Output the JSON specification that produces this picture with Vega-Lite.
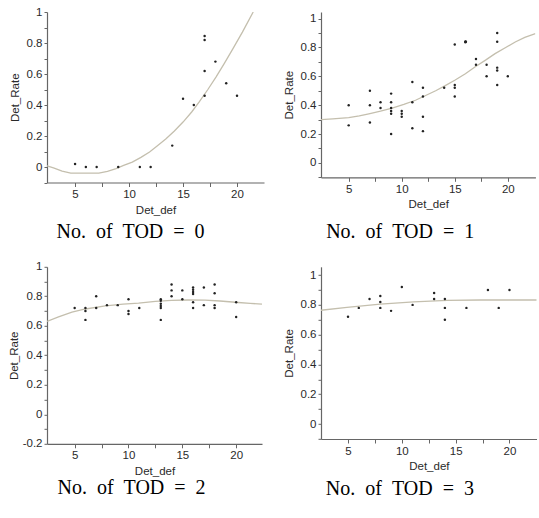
{
  "$schema": "https://vega.github.io/schema/vega-lite/v6.json",
  "background": "white",
  "padding": {"left": 8, "top": 6, "right": 0, "bottom": 0},
  "bounds": "flush",
  "columns": 2,
  "spacing": {"row": 83.8, "column": 57},
  "config": {
    "view": {"stroke": null},
    "axis": {
      "grid": false,
      "domain": true,
      "domainColor": "#666666",
      "domainWidth": 1.2,
      "tickColor": "#666666",
      "tickWidth": 1,
      "labelFont": "Liberation Sans",
      "labelFontSize": 11.5,
      "labelColor": "#2a2a2a",
      "titleFont": "Liberation Sans",
      "titleFontSize": 11.5,
      "titleFontWeight": "normal",
      "titleColor": "#2a2a2a",
      "labelPadding": 2
    },
    "title": {
      "font": "Liberation Serif",
      "fontSize": 20,
      "fontWeight": "normal",
      "color": "#000000",
      "orient": "bottom",
      "anchor": "middle",
      "frame": "group"
    }
  },
  "datasets": {
    "pts": [
      {"tod": 0, "x": 5, "y": 0.02}, {"tod": 0, "x": 6, "y": 0}, {"tod": 0, "x": 7, "y": 0}, {"tod": 0, "x": 9, "y": 0},
      {"tod": 0, "x": 11, "y": 0}, {"tod": 0, "x": 12, "y": 0}, {"tod": 0, "x": 14, "y": 0.138}, {"tod": 0, "x": 15, "y": 0.44},
      {"tod": 0, "x": 16, "y": 0.4}, {"tod": 0, "x": 17, "y": 0.845}, {"tod": 0, "x": 17, "y": 0.82}, {"tod": 0, "x": 17, "y": 0.62},
      {"tod": 0, "x": 17, "y": 0.46}, {"tod": 0, "x": 18, "y": 0.68}, {"tod": 0, "x": 19, "y": 0.54}, {"tod": 0, "x": 20, "y": 0.46},

      {"tod": 1, "x": 5, "y": 0.4}, {"tod": 1, "x": 5, "y": 0.26},
      {"tod": 1, "x": 7, "y": 0.5}, {"tod": 1, "x": 7, "y": 0.4}, {"tod": 1, "x": 7, "y": 0.28},
      {"tod": 1, "x": 8, "y": 0.42}, {"tod": 1, "x": 8, "y": 0.38},
      {"tod": 1, "x": 9, "y": 0.48}, {"tod": 1, "x": 9, "y": 0.42}, {"tod": 1, "x": 9, "y": 0.38}, {"tod": 1, "x": 9, "y": 0.36}, {"tod": 1, "x": 9, "y": 0.34}, {"tod": 1, "x": 9, "y": 0.2},
      {"tod": 1, "x": 10, "y": 0.36}, {"tod": 1, "x": 10, "y": 0.34}, {"tod": 1, "x": 10, "y": 0.32},
      {"tod": 1, "x": 11, "y": 0.56}, {"tod": 1, "x": 11, "y": 0.42}, {"tod": 1, "x": 11, "y": 0.24},
      {"tod": 1, "x": 12, "y": 0.52}, {"tod": 1, "x": 12, "y": 0.46}, {"tod": 1, "x": 12, "y": 0.32}, {"tod": 1, "x": 12, "y": 0.22},
      {"tod": 1, "x": 14, "y": 0.52},
      {"tod": 1, "x": 15, "y": 0.82}, {"tod": 1, "x": 15, "y": 0.54}, {"tod": 1, "x": 15, "y": 0.52}, {"tod": 1, "x": 15, "y": 0.46},
      {"tod": 1, "x": 16, "y": 0.836}, {"tod": 1, "x": 16, "y": 0.842}, {"tod": 1, "x": 16.05, "y": 0.839},
      {"tod": 1, "x": 17, "y": 0.72}, {"tod": 1, "x": 17, "y": 0.68},
      {"tod": 1, "x": 18, "y": 0.68}, {"tod": 1, "x": 18, "y": 0.6},
      {"tod": 1, "x": 19, "y": 0.9}, {"tod": 1, "x": 19, "y": 0.84}, {"tod": 1, "x": 19, "y": 0.66}, {"tod": 1, "x": 19, "y": 0.64}, {"tod": 1, "x": 19, "y": 0.54},
      {"tod": 1, "x": 20, "y": 0.6},

      {"tod": 2, "x": 5, "y": 0.72},
      {"tod": 2, "x": 6, "y": 0.72}, {"tod": 2, "x": 6, "y": 0.7}, {"tod": 2, "x": 6, "y": 0.64},
      {"tod": 2, "x": 7, "y": 0.8}, {"tod": 2, "x": 7, "y": 0.72},
      {"tod": 2, "x": 8, "y": 0.74}, {"tod": 2, "x": 9, "y": 0.74},
      {"tod": 2, "x": 10, "y": 0.78}, {"tod": 2, "x": 10, "y": 0.7}, {"tod": 2, "x": 10, "y": 0.68},
      {"tod": 2, "x": 11, "y": 0.72},
      {"tod": 2, "x": 13, "y": 0.78}, {"tod": 2, "x": 13, "y": 0.77}, {"tod": 2, "x": 13, "y": 0.75}, {"tod": 2, "x": 13, "y": 0.735}, {"tod": 2, "x": 13, "y": 0.72}, {"tod": 2, "x": 13, "y": 0.64},
      {"tod": 2, "x": 14, "y": 0.88}, {"tod": 2, "x": 14, "y": 0.84}, {"tod": 2, "x": 14, "y": 0.8},
      {"tod": 2, "x": 15, "y": 0.84}, {"tod": 2, "x": 15, "y": 0.78},
      {"tod": 2, "x": 16, "y": 0.86}, {"tod": 2, "x": 16, "y": 0.845}, {"tod": 2, "x": 16, "y": 0.83}, {"tod": 2, "x": 16, "y": 0.815}, {"tod": 2, "x": 16, "y": 0.76}, {"tod": 2, "x": 16, "y": 0.72},
      {"tod": 2, "x": 17, "y": 0.86}, {"tod": 2, "x": 17, "y": 0.74},
      {"tod": 2, "x": 18, "y": 0.88}, {"tod": 2, "x": 18, "y": 0.82}, {"tod": 2, "x": 18, "y": 0.74}, {"tod": 2, "x": 18, "y": 0.72},
      {"tod": 2, "x": 20, "y": 0.76}, {"tod": 2, "x": 20, "y": 0.66},

      {"tod": 3, "x": 5, "y": 0.72}, {"tod": 3, "x": 6, "y": 0.78}, {"tod": 3, "x": 7, "y": 0.84},
      {"tod": 3, "x": 8, "y": 0.86}, {"tod": 3, "x": 8, "y": 0.82}, {"tod": 3, "x": 8, "y": 0.78},
      {"tod": 3, "x": 9, "y": 0.76}, {"tod": 3, "x": 10, "y": 0.92}, {"tod": 3, "x": 11, "y": 0.8},
      {"tod": 3, "x": 13, "y": 0.88}, {"tod": 3, "x": 13, "y": 0.84},
      {"tod": 3, "x": 14, "y": 0.84}, {"tod": 3, "x": 14, "y": 0.78}, {"tod": 3, "x": 14, "y": 0.7},
      {"tod": 3, "x": 16, "y": 0.78}, {"tod": 3, "x": 18, "y": 0.9}, {"tod": 3, "x": 19, "y": 0.78}, {"tod": 3, "x": 20, "y": 0.9}
    ],
    "curve": [
      {"tod": 0, "x": 2.4, "y": 0.008}, {"tod": 0, "x": 3.0, "y": -0.005}, {"tod": 0, "x": 3.8, "y": -0.026}, {"tod": 0, "x": 4.6, "y": -0.039},
      {"tod": 0, "x": 5.5, "y": -0.04}, {"tod": 0, "x": 6.5, "y": -0.04}, {"tod": 0, "x": 7.2, "y": -0.039}, {"tod": 0, "x": 8.0, "y": -0.028},
      {"tod": 0, "x": 8.8, "y": -0.01}, {"tod": 0, "x": 9.5, "y": 0.01}, {"tod": 0, "x": 10.3, "y": 0.032}, {"tod": 0, "x": 11.1, "y": 0.062},
      {"tod": 0, "x": 11.9, "y": 0.097}, {"tod": 0, "x": 12.6, "y": 0.135}, {"tod": 0, "x": 13.4, "y": 0.18}, {"tod": 0, "x": 14.2, "y": 0.232},
      {"tod": 0, "x": 15.0, "y": 0.29}, {"tod": 0, "x": 15.8, "y": 0.355}, {"tod": 0, "x": 16.5, "y": 0.42}, {"tod": 0, "x": 17.3, "y": 0.5},
      {"tod": 0, "x": 18.05, "y": 0.58}, {"tod": 0, "x": 18.8, "y": 0.665}, {"tod": 0, "x": 19.6, "y": 0.76}, {"tod": 0, "x": 20.5, "y": 0.87},
      {"tod": 0, "x": 21.5, "y": 1.0},

      {"tod": 1, "x": 2.39, "y": 0.3}, {"tod": 1, "x": 3.5, "y": 0.305}, {"tod": 1, "x": 5, "y": 0.314}, {"tod": 1, "x": 6, "y": 0.325},
      {"tod": 1, "x": 6.9, "y": 0.34}, {"tod": 1, "x": 8, "y": 0.358}, {"tod": 1, "x": 9.1, "y": 0.38}, {"tod": 1, "x": 10.2, "y": 0.405},
      {"tod": 1, "x": 11.3, "y": 0.434}, {"tod": 1, "x": 12.2, "y": 0.465}, {"tod": 1, "x": 13.2, "y": 0.5}, {"tod": 1, "x": 14.1, "y": 0.535},
      {"tod": 1, "x": 15, "y": 0.573}, {"tod": 1, "x": 16, "y": 0.618}, {"tod": 1, "x": 16.9, "y": 0.665}, {"tod": 1, "x": 17.9, "y": 0.712},
      {"tod": 1, "x": 18.8, "y": 0.757}, {"tod": 1, "x": 19.8, "y": 0.8}, {"tod": 1, "x": 20.7, "y": 0.838}, {"tod": 1, "x": 21.6, "y": 0.87},
      {"tod": 1, "x": 22.6, "y": 0.896},

      {"tod": 2, "x": 2.43, "y": 0.63}, {"tod": 2, "x": 3.5, "y": 0.66}, {"tod": 2, "x": 4.75, "y": 0.693}, {"tod": 2, "x": 6, "y": 0.714},
      {"tod": 2, "x": 7.85, "y": 0.735}, {"tod": 2, "x": 9.5, "y": 0.747}, {"tod": 2, "x": 10.94, "y": 0.754}, {"tod": 2, "x": 12.5, "y": 0.765},
      {"tod": 2, "x": 14, "y": 0.772}, {"tod": 2, "x": 15.5, "y": 0.775}, {"tod": 2, "x": 17.1, "y": 0.774}, {"tod": 2, "x": 18.5, "y": 0.768},
      {"tod": 2, "x": 20.2, "y": 0.758}, {"tod": 2, "x": 21.3, "y": 0.752}, {"tod": 2, "x": 22.4, "y": 0.747},

      {"tod": 3, "x": 2.49, "y": 0.764}, {"tod": 3, "x": 4.9, "y": 0.784}, {"tod": 3, "x": 8, "y": 0.805}, {"tod": 3, "x": 11.1, "y": 0.82},
      {"tod": 3, "x": 14.2, "y": 0.83}, {"tod": 3, "x": 17.3, "y": 0.833}, {"tod": 3, "x": 20.4, "y": 0.833}, {"tod": 3, "x": 22.53, "y": 0.833}
    ]
  },
  "concat": [
    {
      "width": 217, "height": 170.5,
      "title": {"text": "No.\u00a0\u00a0of\u00a0\u00a0TOD\u00a0\u00a0=\u00a0\u00a00", "dx": -25, "offset": 6.5},
      "encoding": {
        "x": {"field": "x", "type": "quantitative", "scale": {"domain": [2.4, 22.5], "nice": false, "zero": false},
              "axis": {"title": "Det_def", "values": [5, 7.5, 10, 12.5, 15, 17.5, 20], "labelExpr": "datum.value % 5 === 0 ? datum.value + '' : ''",
                       "tickSize": 4, "titlePadding": 4}},
        "y": {"field": "y", "type": "quantitative", "scale": {"domain": [-0.1, 1], "nice": false, "zero": false},
              "axis": {"title": "Det_Rate", "values": [-0.1, 0, 0.1, 0.2, 0.3, 0.4, 0.5, 0.6, 0.7, 0.8, 0.9, 1],
                       "labelExpr": "round(datum.value*10) % 2 === 0 ? datum.value + '' : ''",
                       "tickSize": 3, "titlePadding": 6}}
      },
      "layer": [
        {"data": {"name": "curve"}, "transform": [{"filter": "datum.tod === 0"}], "mark": {"type": "line", "color": "#c4bfae", "strokeWidth": 1.3, "clip": true}},
        {"data": {"name": "pts"}, "transform": [{"filter": "datum.tod === 0"}], "mark": {"type": "point", "filled": true, "size": 6, "color": "#222222", "opacity": 1}}
      ]
    },
    {
      "width": 214.4, "height": 165.3,
      "title": {"text": "No.\u00a0\u00a0of\u00a0\u00a0TOD\u00a0\u00a0=\u00a0\u00a01", "dx": -28, "offset": 11.5},
      "encoding": {
        "x": {"field": "x", "type": "quantitative", "scale": {"domain": [2.39, 22.6], "nice": false, "zero": false},
              "axis": {"title": "Det_def", "values": [5, 7.5, 10, 12.5, 15, 17.5, 20], "labelExpr": "datum.value % 5 === 0 ? datum.value + '' : ''",
                       "tickSize": 4, "titlePadding": 4}},
        "y": {"field": "y", "type": "quantitative", "scale": {"domain": [-0.1, 1.0457], "nice": false, "zero": false},
              "axis": {"title": "Det_Rate", "values": [-0.1, 0, 0.1, 0.2, 0.3, 0.4, 0.5, 0.6, 0.7, 0.8, 0.9, 1],
                       "labelExpr": "round(datum.value*10) % 2 === 0 ? datum.value + '' : ''",
                       "tickSize": 3, "titlePadding": 6}}
      },
      "layer": [
        {"data": {"name": "curve"}, "transform": [{"filter": "datum.tod === 1"}], "mark": {"type": "line", "color": "#c4bfae", "strokeWidth": 1.3, "clip": true}},
        {"data": {"name": "pts"}, "transform": [{"filter": "datum.tod === 1"}], "mark": {"type": "point", "filled": true, "size": 6, "color": "#222222", "opacity": 1}}
      ]
    },
    {
      "width": 215, "height": 177,
      "title": {"text": "No.\u00a0\u00a0of\u00a0\u00a0TOD\u00a0\u00a0=\u00a0\u00a02", "dx": -23, "offset": 1.5},
      "encoding": {
        "x": {"field": "x", "type": "quantitative", "scale": {"domain": [2.43, 22.4], "nice": false, "zero": false},
              "axis": {"title": "Det_def", "values": [5, 7.5, 10, 12.5, 15, 17.5, 20], "labelExpr": "datum.value % 5 === 0 ? datum.value + '' : ''",
                       "tickSize": 4, "titlePadding": 4}},
        "y": {"field": "y", "type": "quantitative", "scale": {"domain": [-0.2, 1], "nice": false, "zero": false},
              "axis": {"title": "Det_Rate", "values": [-0.2, -0.1, 0, 0.1, 0.2, 0.3, 0.4, 0.5, 0.6, 0.7, 0.8, 0.9, 1],
                       "labelExpr": "round(datum.value*10) % 2 === 0 ? datum.value + '' : ''",
                       "tickSize": 3, "titlePadding": 2.5}}
      },
      "layer": [
        {"data": {"name": "curve"}, "transform": [{"filter": "datum.tod === 2"}], "mark": {"type": "line", "color": "#c4bfae", "strokeWidth": 1.3, "clip": true}},
        {"data": {"name": "pts"}, "transform": [{"filter": "datum.tod === 2"}], "mark": {"type": "point", "filled": true, "size": 6, "color": "#222222", "opacity": 1}}
      ]
    },
    {
      "width": 215.7, "height": 172.2,
      "title": {"text": "No.\u00a0\u00a0of\u00a0\u00a0TOD\u00a0\u00a0=\u00a0\u00a03", "dx": -29, "offset": 6.5},
      "encoding": {
        "x": {"field": "x", "type": "quantitative", "scale": {"domain": [2.49, 22.53], "nice": false, "zero": false},
              "axis": {"title": "Det_def", "values": [5, 7.5, 10, 12.5, 15, 17.5, 20], "labelExpr": "datum.value % 5 === 0 ? datum.value + '' : ''",
                       "tickSize": 4, "titlePadding": 4}},
        "y": {"field": "y", "type": "quantitative", "scale": {"domain": [-0.1, 1.0557], "nice": false, "zero": false},
              "axis": {"title": "Det_Rate", "values": [-0.1, 0, 0.1, 0.2, 0.3, 0.4, 0.5, 0.6, 0.7, 0.8, 0.9, 1],
                       "labelExpr": "round(datum.value*10) % 2 === 0 ? datum.value + '' : ''",
                       "tickSize": 3, "titlePadding": 6}}
      },
      "layer": [
        {"data": {"name": "curve"}, "transform": [{"filter": "datum.tod === 3"}], "mark": {"type": "line", "color": "#c4bfae", "strokeWidth": 1.3, "clip": true}},
        {"data": {"name": "pts"}, "transform": [{"filter": "datum.tod === 3"}], "mark": {"type": "point", "filled": true, "size": 6, "color": "#222222", "opacity": 1}}
      ]
    }
  ]
}
